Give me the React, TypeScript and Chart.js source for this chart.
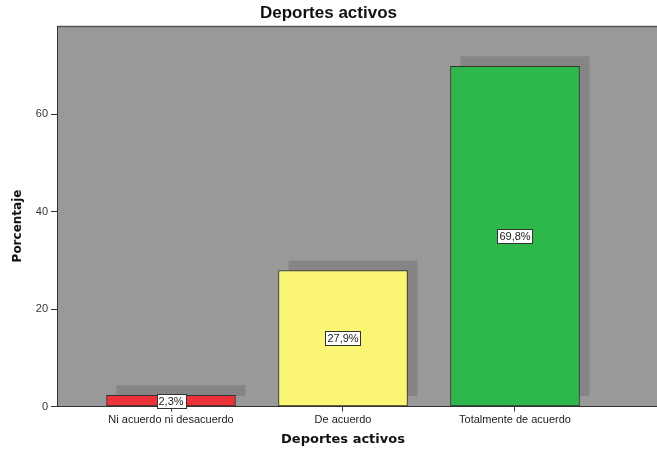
import React, { useEffect, useRef } from "react";
import { Chart, registerables } from "chart.js";

Chart.register(...registerables);

const categories = ["Ni acuerdo ni desacuerdo", "De acuerdo", "Totalmente de acuerdo"];
const percentages = [2.3, 27.9, 69.8];
const barColors = ["#ED323A", "#FAF673", "#2EB84B"];
const yTicks = [0, 20, 40, 60];
const chartTitle = "Deportes activos";
const xTitle = "Deportes activos";
const yTitle = "Porcentaje";

const FONT = "'Liberation Sans', Arial, sans-serif";
const AXIS_FONT = "'DejaVu Sans', Verdana, sans-serif";

const backgroundPlugin = {
  id: "plotBackground",
  beforeDraw(chart: any) {
    const { ctx, chartArea } = chart;
    ctx.save();
    ctx.fillStyle = "#999999";
    ctx.fillRect(chartArea.left, chartArea.top, chartArea.right - chartArea.left, chartArea.bottom - chartArea.top);
    ctx.strokeStyle = "#555555";
    ctx.lineWidth = 1.5;
    ctx.beginPath();
    ctx.moveTo(chartArea.left, chartArea.top);
    ctx.lineTo(chartArea.right, chartArea.top);
    ctx.stroke();
    ctx.restore();
  },
};

const shadowPlugin = {
  id: "barShadow",
  beforeDatasetsDraw(chart: any) {
    const { ctx } = chart;
    const meta = chart.getDatasetMeta(0);
    ctx.save();
    ctx.fillStyle = "#858585";
    meta.data.forEach((el: any) => {
      const { x, y, base, width } = el.getProps(["x", "y", "base", "width"], true);
      ctx.fillRect(x - width / 2 + 10, y - 10, width, base - y);
    });
    ctx.restore();
  },
};

const labelPlugin = {
  id: "barLabels",
  afterDatasetsDraw(chart: any) {
    const { ctx } = chart;
    const meta = chart.getDatasetMeta(0);
    ctx.save();
    ctx.font = `11px ${FONT}`;
    ctx.textAlign = "center";
    ctx.textBaseline = "middle";
    meta.data.forEach((el: any, i: number) => {
      const { x, y, base } = el.getProps(["x", "y", "base"], true);
      const text = percentages[i].toFixed(1).replace(".", ",") + "%";
      const tw = ctx.measureText(text).width;
      const w = Math.round(tw + 4);
      const h = 14;
      const cy = Math.round((y + base) / 2);
      const left = Math.round(x - w / 2) + 0.5;
      const top = Math.round(cy - h / 2) + 0.5;
      ctx.fillStyle = "#ffffff";
      ctx.fillRect(left, top, w, h);
      ctx.strokeStyle = "#333333";
      ctx.lineWidth = 1;
      ctx.strokeRect(left, top, w, h);
      ctx.fillStyle = "#222222";
      ctx.fillText(text, x, cy + 0.5);
    });
    ctx.restore();
  },
};

const titlesPlugin = {
  id: "axisTitles",
  afterDraw(chart: any) {
    const { ctx } = chart;
    const xScale = chart.scales.x;
    ctx.save();
    ctx.fillStyle = "#111111";
    ctx.textAlign = "center";
    ctx.textBaseline = "middle";
    ctx.font = `bold 13px ${AXIS_FONT}`;
    ctx.fillText(xTitle, xScale.getPixelForValue(2), 440);
    ctx.translate(18, chart.height / 2);
    ctx.rotate(-Math.PI / 2);
    ctx.font = `bold 12px ${AXIS_FONT}`;
    ctx.fillText(yTitle, 0, 0);
    ctx.restore();
  },
};

export default function App() {
  const canvasRef = useRef<HTMLCanvasElement | null>(null);

  useEffect(() => {
    const canvas = canvasRef.current;
    if (!canvas) return;
    const chart = new Chart(canvas, {
      type: "bar",
      data: {
        datasets: [
          {
            data: percentages.map((v, i) => ({ x: i + 1, y: v })),
            backgroundColor: barColors,
            borderColor: "#333333",
            borderWidth: 1,
            borderSkipped: false,
            barThickness: 129,
          },
        ],
      },
      options: {
        animation: false,
        responsive: false,
        devicePixelRatio: 1,
        layout: { padding: 0 },
        plugins: {
          legend: { display: false },
          tooltip: { enabled: false },
          title: {
            display: true,
            text: chartTitle,
            color: "#111111",
            font: { family: FONT, size: 17, weight: "bold", lineHeight: 1.2 },
            padding: { top: 3, bottom: 3 },
          },
        },
        scales: {
          x: {
            type: "linear",
            min: 0.3372,
            max: 3.8256,
            offset: false,
            afterBuildTicks: (scale: any) => {
              scale.ticks = categories.map((_, i) => ({ value: i + 1 }));
            },
            afterFit: (scale: any) => {
              scale.height = 45.5;
            },
            ticks: {
              autoSkip: false,
              maxRotation: 0,
              padding: 2,
              color: "#222222",
              font: { family: FONT, size: 11 },
              callback: (v: any) => categories[Math.round(Number(v)) - 1] ?? "",
            },
            grid: { offset: false, drawOnChartArea: false, drawTicks: true, tickLength: 5, color: "#333333" },
            border: { display: true, color: "#333333", width: 1 },
          },
          y: {
            min: 0,
            max: 78,
            afterBuildTicks: (scale: any) => {
              scale.ticks = yTicks.map((v) => ({ value: v }));
            },
            afterFit: (scale: any) => {
              scale.width = 57;
            },
            ticks: {
              padding: 3,
              color: "#333333",
              font: { family: FONT, size: 11 },
            },
            grid: { drawOnChartArea: false, drawTicks: true, tickLength: 6, color: "#333333" },
            border: { display: true, color: "#333333", width: 1 },
          },
        },
      },
      plugins: [backgroundPlugin, shadowPlugin, labelPlugin, titlesPlugin],
    } as any);
    return () => chart.destroy();
  }, []);

  return (
    <div style={{ position: "fixed", left: 0, top: 0, width: 657, height: 452, background: "#ffffff" }}>
      <canvas ref={canvasRef} width={657} height={452} style={{ display: "block" }} />
    </div>
  );
}
